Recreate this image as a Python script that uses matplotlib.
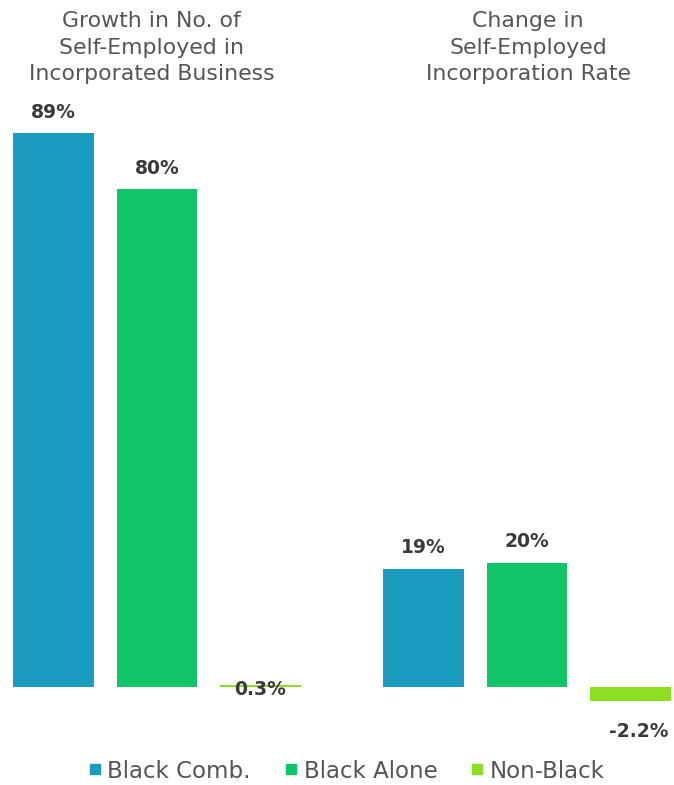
import matplotlib.pyplot as plt
from matplotlib.lines import Line2D
import matplotlib.transforms as mtransforms

plt.rcParams['font.family'] = ['DejaVu Sans']

# data
group_titles = [
    "Growth in No. of\nSelf-Employed in\nIncorporated Business",
    "Change in\nSelf-Employed\nIncorporation Rate",
]
series = ["Black Comb.", "Black Alone", "Non-Black"]
growth_incorporated = [89, 80, 0.3]
change_incorp_rate = [19, 20, -2.2]
growth_labels = ["89%", "80%", "0.3%"]
rate_labels = ["19%", "20%", "-2.2%"]
colors = ["#1A9CBF", "#12C468", "#8CE021"]

W, H = 674, 785
fig = plt.figure(figsize=(W / 100, H / 100), dpi=100)
ax = fig.add_axes([0, 0, 1, 1])

# pixel layout -> data limits
pitch_px = 103.5          # distance between neighbouring bars
center0_px = 157          # centre of first group
base_px = 687             # zero line, from top
px_per_unit = 6.22
group_gap = 3.575         # in bar pitches

ax.set_xlim(-center0_px / pitch_px, (W - center0_px) / pitch_px)
ax.set_ylim(-(H - base_px) / px_per_unit, base_px / px_per_unit)
ax.axis('off')

values = [growth_incorporated, change_incorp_rate]
labels = [growth_labels, rate_labels]
# label offsets in points (x, y) per group/bar
offsets = [[(0, 15), (0, 15), (0, -3.5)],
           [(0, 15), (0, 15), (6, -22)]]
title_shift = [-0.05, 0.01]

trans = mtransforms.blended_transform_factory(ax.transData, ax.transAxes)
for g, (vals, labs) in enumerate(zip(values, labels)):
    xs = [g * group_gap + (i - 1) for i in range(len(vals))]
    ax.bar(xs, vals, width=0.78, color=colors)
    for x, v, lab, off in zip(xs, vals, labs, offsets[g]):
        ax.annotate(lab, (x, v), xytext=off, textcoords='offset points',
                    ha='center', va='center', fontsize=13.5,
                    fontweight='bold', color='#3a3a3a')

    ax.text(g * group_gap + title_shift[g], 1 - 11 / H, group_titles[g],
            transform=trans, ha='center', va='top', fontsize=15.8,
            color='#555555', linespacing=1.42)

handles = [Line2D([], [], marker='s', linestyle='none', markersize=6.5,
                  color=c) for c in colors]
fig.legend(handles, series, loc='center', bbox_to_anchor=(347 / W, 1 - 771 / H),
           ncol=3, frameon=False, fontsize=16.5, handletextpad=0.3,
           columnspacing=1.5, handlelength=0.5, labelcolor='#555555')

fig.savefig('out.png', dpi=100)
